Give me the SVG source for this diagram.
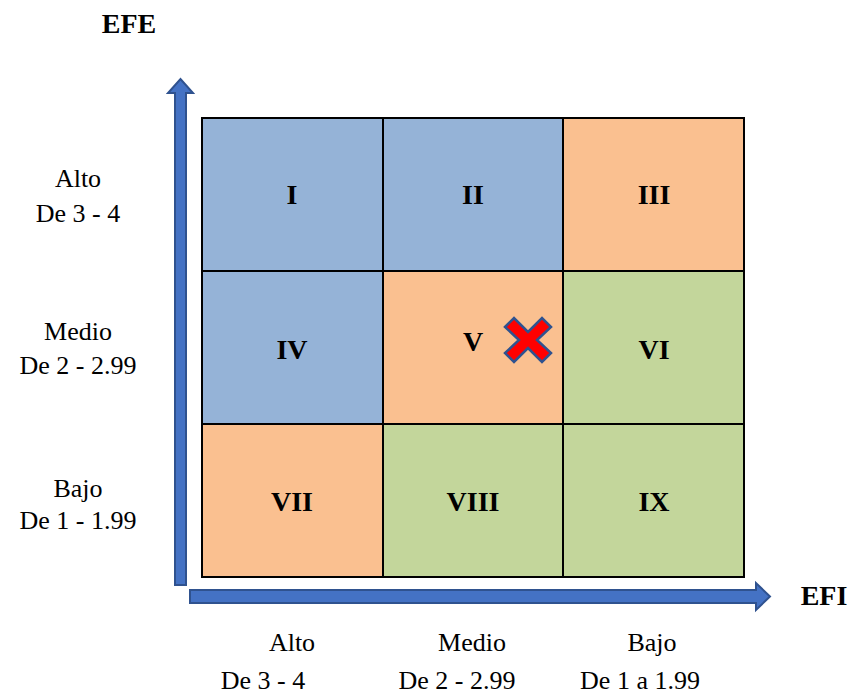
<svg xmlns="http://www.w3.org/2000/svg" width="854" height="696" viewBox="0 0 854 696">
<style>
.t{font-family:'Times New Roman','Liberation Serif',serif;font-size:26px;fill:#000;text-anchor:middle}
.b{font-family:'Times New Roman','Liberation Serif',serif;font-size:28px;font-weight:bold;fill:#000;text-anchor:middle}
.cell{stroke:#000;stroke-width:2}
.blue{fill:#95B3D7}.orange{fill:#FAC090}.green{fill:#C3D69B}
.arrow{fill:#4472C4;stroke:#2F528F;stroke-width:2}
</style>
<rect width="854" height="696" fill="#fff"/>
<text class="b" x="129" y="33">EFE</text>
<text class="b" x="824" y="605">EFI</text>
<g id="axes">
<path class="arrow" d="M175,585 L175,93 L168,93 L180.5,79 L193,93 L186,93 L186,585 Z"/>
<path class="arrow" d="M190,590 L756,590 L756,583 L770,596.5 L756,610 L756,603 L190,603 Z"/>
</g>
<g id="cell-I"><rect class="cell blue" x="202" y="118" width="181" height="153"/><text class="b" x="292" y="204">I</text></g>
<g id="cell-II"><rect class="cell blue" x="383" y="118" width="180" height="153"/><text class="b" x="473" y="204">II</text></g>
<g id="cell-III"><rect class="cell orange" x="563" y="118" width="181" height="153"/><text class="b" x="654" y="204">III</text></g>
<g id="cell-IV"><rect class="cell blue" x="202" y="271" width="181" height="153"/><text class="b" x="292" y="359">IV</text></g>
<g id="cell-V"><rect class="cell orange" x="383" y="271" width="180" height="153"/><text class="b" x="473" y="351">V</text></g>
<g id="cell-VI"><rect class="cell green" x="563" y="271" width="181" height="153"/><text class="b" x="654" y="359">VI</text></g>
<g id="cell-VII"><rect class="cell orange" x="202" y="424" width="181" height="153"/><text class="b" x="292" y="511">VII</text></g>
<g id="cell-VIII"><rect class="cell green" x="383" y="424" width="180" height="153"/><text class="b" x="473" y="511">VIII</text></g>
<g id="cell-IX"><rect class="cell green" x="563" y="424" width="181" height="153"/><text class="b" x="654" y="511">IX</text></g>
<g id="marker-x">
<path d="M505,327 L514,318 L528,332 L542,318 L551,327 L537,340 L551,353 L542,362 L528,348 L514,362 L505,353 L519,340 Z" fill="#FF0000" stroke="#2F528F" stroke-width="2.5" stroke-linejoin="miter"/>
</g>
<g id="y-labels">
<text class="t" x="78" y="187">Alto</text>
<text class="t" x="78" y="222">De 3 - 4</text>
<text class="t" x="78" y="340">Medio</text>
<text class="t" x="78" y="374">De 2 - 2.99</text>
<text class="t" x="78" y="497">Bajo</text>
<text class="t" x="78" y="529">De 1 - 1.99</text>
</g>
<g id="x-labels">
<text class="t" x="292" y="651">Alto</text>
<text class="t" x="263" y="689">De 3 - 4</text>
<text class="t" x="472" y="651">Medio</text>
<text class="t" x="457" y="689">De 2 - 2.99</text>
<text class="t" x="652" y="651">Bajo</text>
<text class="t" x="640" y="689">De 1 a 1.99</text>
</g>
</svg>
